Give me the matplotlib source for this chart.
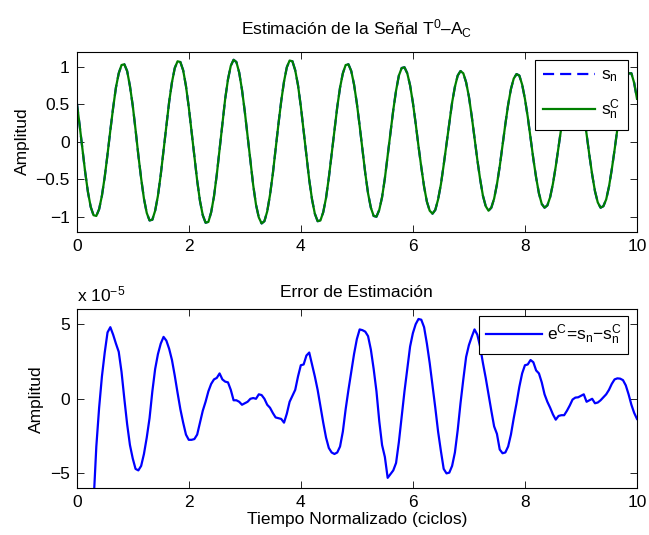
import numpy as np
import matplotlib
matplotlib.use("Agg")
import matplotlib.pyplot as plt

plt.rcParams["font.family"] = ["Liberation Sans", "DejaVu Sans"]
plt.rcParams["mathtext.fontset"] = "custom"
plt.rcParams["mathtext.rm"] = "Liberation Sans"
plt.rcParams["mathtext.default"] = "regular"
plt.rcParams["font.size"] = 12.5
plt.rcParams["axes.unicode_minus"] = True

FS = 12.5

# tiempo normalizado, paso de 0.05 ciclos
t = np.linspace(0, 10, 201)

# señal s_n
s_n = [
    0.53, 0.23, -0.09, -0.40, -0.67, -0.87, -0.98,
    -0.99, -0.90, -0.72, -0.47, -0.17, 0.15, 0.45, 0.72, 0.91, 1.02,
    1.03, 0.94, 0.74, 0.48, 0.16, -0.18, -0.49, -0.76, -0.95, -1.05,
    -1.04, -0.92, -0.72, -0.44, -0.12, 0.21, 0.53, 0.79, 0.98, 1.07,
    1.06, 0.95, 0.74, 0.46, 0.13, -0.21, -0.52, -0.79, -0.98, -1.08,
    -1.07, -0.94, -0.73, -0.44, -0.10, 0.24, 0.57, 0.83, 1.01, 1.09,
    1.06, 0.92, 0.69, 0.40, 0.07, -0.27, -0.58, -0.84, -1.01, -1.09,
    -1.06, -0.93, -0.71, -0.43, -0.10, 0.23, 0.54, 0.80, 0.99, 1.08,
    1.07, 0.95, 0.75, 0.47, 0.14, -0.19, -0.51, -0.77, -0.96, -1.06,
    -1.05, -0.94, -0.75, -0.48, -0.17, 0.15, 0.46, 0.72, 0.91, 1.02,
    1.03, 0.94, 0.76, 0.51, 0.21, -0.11, -0.42, -0.69, -0.88, -0.99,
    -1.00, -0.91, -0.74, -0.49, -0.19, 0.12, 0.42, 0.68, 0.88, 0.98,
    0.99, 0.91, 0.75, 0.52, 0.24, -0.06, -0.34, -0.60, -0.80, -0.92,
    -0.96, -0.91, -0.77, -0.57, -0.31, -0.03, 0.26, 0.52, 0.73, 0.88, 0.94,
    0.91, 0.79, 0.60, 0.34, 0.05, -0.24, -0.50, -0.72, -0.86, -0.92,
    -0.88, -0.76, -0.57, -0.33, -0.05, 0.23, 0.49, 0.70, 0.84, 0.90,
    0.88, 0.76, 0.57, 0.33, 0.05, -0.23, -0.48, -0.69, -0.83, -0.88,
    -0.85, -0.74, -0.56, -0.33, -0.07, 0.20, 0.45, 0.65, 0.80, 0.87,
    0.86, 0.77, 0.60, 0.36, 0.10, -0.18, -0.44, -0.66, -0.81, -0.88,
    -0.86, -0.77, -0.60, -0.37, -0.11, 0.17, 0.43, 0.65, 0.82, 0.91,
    0.91, 0.78, 0.57,
]

# error de estimación e^C (en unidades de 1e-5)
e_c = [
    -60.0, -52.0, -44.0, -35.0, -26.0, -17.0, -7.0,
    -3.2, -0.6, 1.5, 3.1, 4.45, 4.8, 4.3, 3.7, 3.15, 1.8,
    0.0, -1.7, -3.1, -4.0, -4.7, -4.8, -4.5, -3.7, -2.6, -1.3,
    0.5, 2.0, 3.0, 3.7, 4.15, 3.9, 3.35, 2.6, 1.55, 0.4,
    -0.7, -1.6, -2.4, -2.75, -2.75, -2.7, -2.4, -1.6, -0.8, -0.2,
    0.5, 1.0, 1.3, 1.4, 1.7, 1.3, 1.15, 1.1, 0.6, -0.1,
    -0.1, -0.2, -0.4, -0.3, -0.2, 0.0, 0.05, 0.0, 0.3, 0.25,
    0.0, -0.4, -0.6, -0.95, -1.25, -1.3, -1.35, -1.6, -1.0, -0.2,
    0.2, 0.6, 1.5, 2.25, 2.3, 2.9, 3.1, 2.3, 1.5, 0.6,
    -0.5, -1.6, -2.6, -3.3, -3.6, -3.7, -3.6, -3.2, -2.2, -0.7,
    0.6, 1.8, 3.0, 4.0, 4.65, 4.6, 4.5, 4.2, 3.3, 2.0,
    0.5, -1.5, -3.1, -3.9, -5.3, -5.05, -4.8, -4.3, -2.9, -1.2,
    0.5, 2.0, 3.5, 4.4, 5.0, 5.35, 5.3, 4.8, 3.7, 2.4,
    0.9, -0.6, -2.2, -3.5, -4.7, -5.0, -4.95, -4.5, -3.6, -2.1,
    -0.3, 1.3, 2.8, 3.6, 4.15, 4.65, 4.3, 3.5, 2.4, 1.4,
    0.3, -0.8, -1.85, -2.35, -3.4, -3.65, -3.6, -3.2, -2.4, -1.3,
    -0.3, 0.8, 1.7, 2.25, 2.3, 2.6, 2.45, 1.9, 1.7, 1.1,
    0.3, -0.2, -0.6, -1.05, -1.4, -1.15, -1.1, -1.1, -0.8, -0.45,
    -0.05, 0.08, 0.1, 0.2, 0.3, -0.2, -0.1, 0.0, -0.3, -0.25,
    -0.1, 0.1, 0.3, 0.6, 1.0, 1.3, 1.37, 1.35, 1.25, 0.9,
    0.3, -0.4, -0.95, -1.35,
]

s_n = np.array(s_n)
e_c = np.array(e_c) * 1e-5
s_c = s_n - e_c  # s_n^C = s_n - e^C

blue = "#0000ff"
green = "#008000"

fig = plt.figure(figsize=(6.49, 5.35), dpi=100)
ax1 = fig.add_axes([0.1182, 0.5669, 0.8633, 0.3368])
ax2 = fig.add_axes([0.1182, 0.0873, 0.8633, 0.3346])

for ax in (ax1, ax2):
    ax.tick_params(direction="in", top=True, right=True, length=5, width=0.6,
                   labelsize=FS, pad=5)
    for sp in ax.spines.values():
        sp.set_linewidth(0.8)
    ax.set_xlim(0, 10)
    ax.set_xticks([0, 2, 4, 6, 8, 10])
    ax.set_ylabel("Amplitud", fontsize=FS, labelpad=4)

# señal y estimación
ax1.plot(t, s_n, "--", color=blue, lw=1.6, dashes=(5, 2.7), label="s$_n$")
ax1.plot(t, s_c, "-", color=green, lw=1.6, label="s$_n^C$")
ax1.set_ylim(-1.2, 1.2)
ax1.set_yticks([-1, -0.5, 0, 0.5, 1])
ax1.set_yticklabels(["\u22121", "\u22120.5", "0", "0.5", "1"])
ax1.set_title("Estimación de la Señal T$^0$\u2013A$_C$", fontsize=FS, pad=12)
leg1 = ax1.legend(loc="upper right", bbox_to_anchor=(0.9845, 0.955),
                  borderaxespad=0, fancybox=False, edgecolor="black",
                  framealpha=1, handlelength=3.0, handletextpad=0.35,
                  labelspacing=0.75, borderpad=0.45, fontsize=FS)
leg1.get_frame().set_linewidth(0.8)

# error
ax2.plot(t, e_c, "-", color=blue, lw=1.6,
         label="e$^C$=s$_n$\u2212s$_n^C$")
ax2.set_ylim(-6e-5, 6e-5)
ax2.set_yticks([-5e-5, 0, 5e-5])
ax2.set_yticklabels(["\u22125", "0", "5"])
ax2.text(0, 1.03, "x 10$^{\u22125}$", transform=ax2.transAxes,
         ha="left", va="bottom", fontsize=FS)
ax2.set_title("Error de Estimación", fontsize=FS, pad=9)
ax2.set_xlabel("Tiempo Normalizado (ciclos)", fontsize=FS, labelpad=1)
leg2 = ax2.legend(loc="upper right", bbox_to_anchor=(0.9845, 0.9626),
                  borderaxespad=0, fancybox=False, edgecolor="black",
                  framealpha=1, handlelength=3.2, handletextpad=0.3,
                  borderpad=0.4, fontsize=FS)
leg2.get_frame().set_linewidth(0.8)

fig.savefig("out.png", dpi=100)
